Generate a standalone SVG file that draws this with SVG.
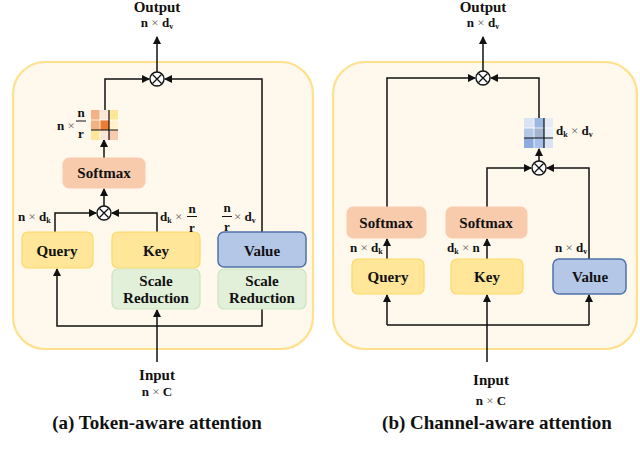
<svg xmlns="http://www.w3.org/2000/svg" width="640" height="459" viewBox="0 0 640 459">
<defs>
<style>
text{font-family:"Liberation Serif","Times New Roman",serif;font-weight:bold;fill:#111}
.box{font-size:15px}
.t{font-size:15px}
.lab{font-size:13px}
.cap{font-size:19px}
.x{font-weight:normal;fill:#666}
.sub{font-size:8px}
.panel{fill:#FFF8EC;stroke:#FFE08C;stroke-width:2.2}
.yel{fill:#FFE699;stroke:#FFD966;stroke-width:1.2}
.blu{fill:#B4C7E7;stroke:#4F72A8;stroke-width:1.5}
.sm{fill:#F8CBAD;stroke:#F8CBAD}
.sr{fill:#E2F0D9;stroke:#CDE5BE;stroke-width:1.2}
.c{fill:none;stroke:#111;stroke-width:1.5}
.op circle{fill:#fff;stroke:#111;stroke-width:1.4}
.op path{stroke:#111;stroke-width:1.3}
.fb{stroke:#111;stroke-width:1}
.gl{stroke:#111;stroke-width:1.2}
</style>
<marker id="ah" markerUnits="userSpaceOnUse" markerWidth="8" markerHeight="8" refX="7" refY="4" orient="auto">
<path d="M0,0 L8,4 L0,8 z" fill="#111"/>
</marker>
</defs>
<rect width="640" height="459" fill="#fff"/>

<!-- panels -->
<g id="panelA"><rect class="panel" x="13" y="62" width="300" height="287" rx="32"/></g>
<g id="panelB"><rect class="panel" x="333" y="62" width="304" height="287" rx="32"/></g>

<!-- connectors -->
<g id="connectors" class="c" marker-end="url(#ah)">
<path d="M157,72 V37"/>
<path d="M105,110 V79 H149"/>
<path d="M262,232 V79 H165"/>
<path d="M104,158 V140"/>
<path d="M104,206 V189"/>
<path d="M55,232 V213 H96"/>
<path d="M157,232 V213 H112"/>
<path d="M157,362 V310"/>
<path d="M262,309 V326 H57 V269"/>
<path d="M483,71 V37"/>
<path d="M387,207 V78 H475"/>
<path d="M539,118 V78 H491"/>
<path d="M539,161 V149"/>
<path d="M487,207 V168 H531"/>
<path d="M589,259 V168 H547"/>
<path d="M387,259 V239"/>
<path d="M487,259 V239"/>
<path d="M387,325 H589" marker-end="none"/>
<path d="M387,325 V295"/>
<path d="M589,325 V295"/>
<path d="M487,362 V295"/>
</g>

<!-- left panel nodes -->
<g id="outA"><text class="t" x="157" y="12" text-anchor="middle">Output</text>
<text class="lab" x="157" y="27" text-anchor="middle">n<tspan class="x"> × </tspan>d<tspan class="sub" dy="2">v</tspan></text></g>
<g id="mulA1" class="op"><circle cx="157" cy="79" r="7"/><path d="M152.5,74.5 L161.5,83.5 M161.5,74.5 L152.5,83.5"/></g>
<g id="mulA2" class="op"><circle cx="104" cy="213" r="7"/><path d="M99.5,208.5 L108.5,217.5 M108.5,208.5 L99.5,217.5"/></g>
<g id="matA">
<rect x="91" y="110" width="9" height="10" fill="#F4B183"/>
<rect x="100" y="110" width="9" height="10" fill="#FBE5D6"/>
<rect x="109" y="110" width="9" height="10" fill="#FFE699"/>
<rect x="91" y="120" width="9" height="10" fill="#F4B183"/>
<rect x="100" y="120" width="9" height="10" fill="#ED7D31"/>
<rect x="109" y="120" width="9" height="10" fill="#FFF2CC"/>
<rect x="91" y="130" width="9" height="10" fill="#FFE699"/>
<rect x="100" y="130" width="9" height="10" fill="#FBE5D6"/>
<rect x="109" y="130" width="9" height="10" fill="#F8CBAD"/>
<path d="M100,110 V140 M91,120 H118" stroke="#fff" stroke-width="0.8"/>
<path class="gl" d="M109,110 V140 M91,130 H118"/>
<text class="lab" x="57" y="130" font-size="14">n<tspan class="x"> ×</tspan></text>
<text class="lab" x="81" y="117" text-anchor="middle" font-size="14">n</text>
<path class="fb" d="M76,121 H86"/>
<text class="lab" x="81" y="138" text-anchor="middle" font-size="14">r</text>
</g>
<g id="softA"><rect class="sm" x="63" y="158" width="82" height="30" rx="6"/><text class="box" x="104" y="178" text-anchor="middle">Softmax</text></g>
<g id="queryA"><rect class="yel" x="22" y="232" width="71" height="36" rx="6"/><text class="box" x="57" y="256" text-anchor="middle">Query</text>
<text class="lab" x="18" y="221">n<tspan class="x"> × </tspan>d<tspan class="sub" dy="2">k</tspan></text></g>
<g id="keyA"><rect class="yel" x="112" y="232" width="88" height="36" rx="6"/><text class="box" x="156" y="256" text-anchor="middle">Key</text>
<text class="lab" x="160" y="221">d<tspan class="sub" dy="2">k</tspan><tspan class="x" dy="-2"> ×</tspan></text>
<text class="lab" x="192" y="213" text-anchor="middle" font-size="14">n</text>
<path class="fb" d="M187,216.5 H197"/>
<text class="lab" x="192" y="232" text-anchor="middle" font-size="14">r</text></g>
<g id="valueA"><rect class="blu" x="218" y="232" width="88" height="35" rx="6"/><text class="box" x="262" y="256" text-anchor="middle">Value</text>
<text class="lab" x="227" y="212" text-anchor="middle" font-size="14">n</text>
<path class="fb" d="M222,216.5 H232"/>
<text class="lab" x="227" y="231" text-anchor="middle" font-size="14">r</text>
<text class="lab" x="234" y="221"><tspan class="x">× </tspan>d<tspan class="sub" dy="2">v</tspan></text></g>
<g id="srA1"><rect class="sr" x="112" y="269" width="88" height="40" rx="6"/><text class="box" x="156" y="286" text-anchor="middle">Scale</text><text class="box" x="156" y="303" text-anchor="middle">Reduction</text></g>
<g id="srA2"><rect class="sr" x="218" y="269" width="88" height="40" rx="6"/><text class="box" x="262" y="286" text-anchor="middle">Scale</text><text class="box" x="262" y="303" text-anchor="middle">Reduction</text></g>
<g id="inA"><text class="t" x="157" y="380" text-anchor="middle" font-size="14">Input</text>
<text class="lab" x="157" y="396" text-anchor="middle">n<tspan class="x"> × </tspan>C</text></g>
<text class="cap" x="157" y="429" text-anchor="middle">(a) Token-aware attention</text>

<!-- right panel nodes -->
<g id="outB"><text class="t" x="483" y="12" text-anchor="middle">Output</text>
<text class="lab" x="483" y="27" text-anchor="middle">n<tspan class="x"> × </tspan>d<tspan class="sub" dy="2">v</tspan></text></g>
<g id="mulB1" class="op"><circle cx="483" cy="78" r="7"/><path d="M478.5,73.5 L487.5,82.5 M487.5,73.5 L478.5,82.5"/></g>
<g id="mulB2" class="op"><circle cx="539" cy="168" r="7"/><path d="M534.5,163.5 L543.5,172.5 M543.5,163.5 L534.5,172.5"/></g>
<g id="matB">
<rect x="524" y="118" width="10" height="10" fill="#DAE3F3"/>
<rect x="534" y="118" width="10" height="10" fill="#9DB8E0"/>
<rect x="544" y="118" width="9" height="10" fill="#E4EBF7"/>
<rect x="524" y="128" width="10" height="10" fill="#B4C7E7"/>
<rect x="534" y="128" width="10" height="10" fill="#A2B4CE"/>
<rect x="544" y="128" width="9" height="10" fill="#E6EDF8"/>
<rect x="524" y="138" width="10" height="10" fill="#8FAADC"/>
<rect x="534" y="138" width="10" height="10" fill="#A9C1E8"/>
<rect x="544" y="138" width="9" height="10" fill="#DAE3F3"/>
<path d="M534,118 V148 M524,128 H553" stroke="#fff" stroke-width="0.8"/>
<path class="gl" d="M544,118 V148 M524,138 H553"/>
<text class="lab" x="556" y="135">d<tspan class="sub" dy="2">k</tspan><tspan class="x" dy="-2"> × </tspan>d<tspan class="sub" dy="2">v</tspan></text>
</g>
<g id="softB1"><rect class="sm" x="347" y="207" width="79" height="31" rx="6"/><text class="box" x="386" y="228" text-anchor="middle">Softmax</text></g>
<g id="softB2"><rect class="sm" x="446" y="207" width="81" height="31" rx="6"/><text class="box" x="486" y="228" text-anchor="middle">Softmax</text></g>
<g id="queryB"><rect class="yel" x="352" y="259" width="72" height="35" rx="6"/><text class="box" x="388" y="282" text-anchor="middle">Query</text>
<text class="lab" x="350" y="252">n<tspan class="x"> × </tspan>d<tspan class="sub" dy="2">k</tspan></text></g>
<g id="keyB"><rect class="yel" x="451" y="259" width="72" height="35" rx="6"/><text class="box" x="487" y="282" text-anchor="middle">Key</text>
<text class="lab" x="447" y="252">d<tspan class="sub" dy="2">k</tspan><tspan class="x" dy="-2"> × </tspan>n</text></g>
<g id="valueB"><rect class="blu" x="553" y="259" width="73" height="35" rx="6"/><text class="box" x="590" y="282" text-anchor="middle">Value</text>
<text class="lab" x="555" y="252">n<tspan class="x"> × </tspan>d<tspan class="sub" dy="2">v</tspan></text></g>
<g id="inB"><text class="t" x="491" y="385" text-anchor="middle" font-size="14">Input</text>
<text class="lab" x="491" y="405" text-anchor="middle">n<tspan class="x"> × </tspan>C</text></g>
<text class="cap" x="497" y="429" text-anchor="middle">(b) Channel-aware attention</text>
</svg>
